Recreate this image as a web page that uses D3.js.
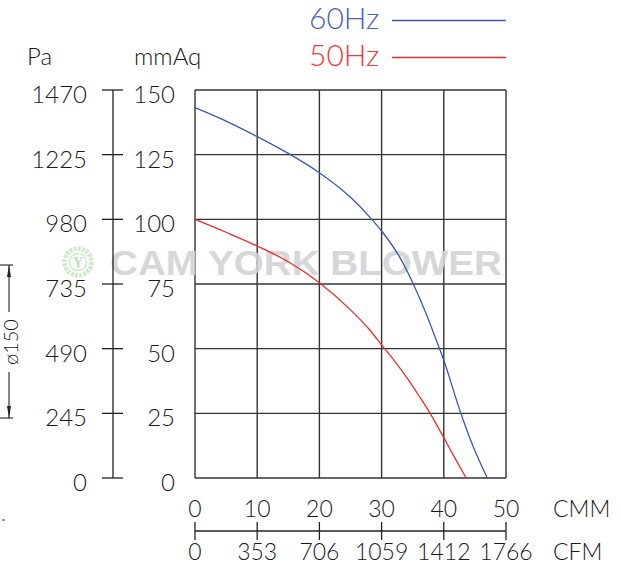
<!DOCTYPE html>
<html>
<head>
<meta charset="utf-8">
<script src="https://cdn.jsdelivr.net/npm/d3@7"></script>
<style>
  body { margin: 0; background: #fff; }
  text { font-family: Lato, "DejaVu Sans", sans-serif; font-weight: 300; fill: #1a1a1a; }
</style>
</head>
<body>
<div id="plot"></div>
<script>
// axis ticks / labels
const cmmTicks = [0, 10, 20, 30, 40, 50];
const cfmLabels = ["0", "353", "706", "1059", "1412", "1766"];
const mmAqTicks = [0, 25, 50, 75, 100, 125, 150];
const paLabels = ["0", "245", "490", "735", "980", "1225", "1470"];

// 60Hz curve (CMM, mmAq)
const flow60 = [0, 5, 10, 15, 20, 25, 28.4, 30, 33, 35, 37, 39, 40, 42.6, 44.7, 47];
const press60 = [143.2, 138, 132, 125.5, 118, 108.5, 100, 95.5, 85, 75.5, 64.5, 52, 45.5, 26, 12.3, 0];

// 50Hz curve (CMM, mmAq)
const flow50 = [0, 5, 10, 15, 20, 25, 28, 30, 32, 34, 36, 37.8, 40, 42, 43.6];
const press50 = [100, 95, 89.7, 83.6, 75.5, 65, 57.5, 51.5, 45.5, 39, 31.8, 25, 15.6, 6.8, 0];

const width = 621;
const height = 564;
const margin = { top: 90, right: 115, bottom: 86, left: 195 };

const svg = d3.select("#plot")
    .append("svg")
    .attr("width", width)
    .attr("height", height);

const x = d3.scaleLinear().domain([0, 50]).range([margin.left, width - margin.right]);
const y = d3.scaleLinear().domain([0, 150]).range([height - margin.bottom, margin.top]);
const yPa = d3.scaleLinear().domain([0, 1470]).range([height - margin.bottom, margin.top]);

// grid
svg.append("g")
    .selectAll("line")
    .data(cmmTicks)
    .join("line")
    .attr("x1", (d) => x(d)).attr("x2", (d) => x(d))
    .attr("y1", y(0)).attr("y2", y(150))
    .attr("stroke", "#333").attr("stroke-width", 1.4);

svg.append("g")
    .selectAll("line")
    .data(mmAqTicks)
    .join("line")
    .attr("x1", x(0)).attr("x2", x(50))
    .attr("y1", (d) => y(d)).attr("y2", (d) => y(d))
    .attr("stroke", "#333").attr("stroke-width", 1.4);

// watermark
const wm = svg.append("g").attr("opacity", 0.9);
wm.append("circle")
    .attr("cx", 78).attr("cy", 262).attr("r", 13.5)
    .attr("fill", "none").attr("stroke", "#c9e8c4").attr("stroke-width", 4.5)
    .attr("stroke-dasharray", "3 1.2");
wm.append("circle")
    .attr("cx", 78).attr("cy", 262).attr("r", 8.5)
    .attr("fill", "#fff").attr("stroke", "#c9e8c4").attr("stroke-width", 1.5);
wm.append("text")
    .attr("x", 78).attr("y", 267)
    .attr("text-anchor", "middle")
    .style("font-family", "'Liberation Serif', serif")
    .style("font-size", "14px")
    .style("font-weight", "bold")
    .style("fill", "#b5dcb0")
    .text("Y");
wm.append("text")
    .attr("x", 110).attr("y", 275)
    .attr("textLength", 392)
    .attr("lengthAdjust", "spacingAndGlyphs")
    .style("font-family", "'Liberation Sans', Arial, sans-serif")
    .style("font-weight", "bold")
    .style("font-size", "35px")
    .style("fill", "#d2d3d5")
    .text("CAM YORK BLOWER");

// curves
const line = d3.line()
    .x((d) => x(d[0]))
    .y((d) => y(d[1]))
    .curve(d3.curveMonotoneX);

svg.append("path")
    .datum(d3.zip(flow60, press60))
    .attr("d", line)
    .attr("fill", "none")
    .attr("stroke", "#3c58b4")
    .attr("stroke-width", 1.3);

svg.append("path")
    .datum(d3.zip(flow50, press50))
    .attr("d", line)
    .attr("fill", "none")
    .attr("stroke", "#f02a2a")
    .attr("stroke-width", 1.3);

// left axis (Pa | mmAq)
const axisX = 113;
svg.append("line")
    .attr("x1", axisX).attr("x2", axisX)
    .attr("y1", y(0)).attr("y2", y(150))
    .attr("stroke", "#222").attr("stroke-width", 1.3);

svg.append("g")
    .selectAll("line")
    .data(mmAqTicks)
    .join("line")
    .attr("x1", axisX - 11).attr("x2", axisX + 10)
    .attr("y1", (d) => y(d)).attr("y2", (d) => y(d))
    .attr("stroke", "#222").attr("stroke-width", 1.3);

svg.append("g")
    .selectAll("text")
    .data(mmAqTicks)
    .join("text")
    .attr("x", 175)
    .attr("y", (d) => y(d) + 13)
    .attr("text-anchor", "end")
    .style("font-size", "24px")
    .text((d) => d);

svg.append("g")
    .selectAll("text")
    .data(paLabels)
    .join("text")
    .attr("x", 87)
    .attr("y", (d) => yPa(+d) + 13)
    .attr("text-anchor", "end")
    .style("font-size", "24px")
    .text((d) => d);

svg.append("text")
    .attr("x", 27).attr("y", 65)
    .style("font-size", "24px")
    .text("Pa");

svg.append("text")
    .attr("x", 134).attr("y", 65)
    .style("font-size", "24px")
    .text("mmAq");

// bottom axis (CMM | CFM)
const axisY = 531;
svg.append("line")
    .attr("x1", x(0)).attr("x2", x(50))
    .attr("y1", axisY).attr("y2", axisY)
    .attr("stroke", "#222").attr("stroke-width", 1.3);

svg.append("g")
    .selectAll("line")
    .data(cmmTicks)
    .join("line")
    .attr("x1", (d) => x(d)).attr("x2", (d) => x(d))
    .attr("y1", axisY - 9).attr("y2", axisY + 9)
    .attr("stroke", "#222").attr("stroke-width", 1.3);

svg.append("g")
    .selectAll("text")
    .data(cmmTicks)
    .join("text")
    .attr("x", (d) => x(d))
    .attr("y", 517)
    .attr("text-anchor", "middle")
    .style("font-size", "23px")
    .text((d) => d);

svg.append("g")
    .selectAll("text")
    .data(cfmLabels)
    .join("text")
    .attr("x", (d, i) => x(cmmTicks[i]))
    .attr("y", 560)
    .attr("text-anchor", "middle")
    .style("font-size", "23px")
    .text((d) => d);

svg.append("text")
    .attr("x", 553).attr("y", 517)
    .style("font-size", "23px")
    .text("CMM");

svg.append("text")
    .attr("x", 553).attr("y", 560)
    .style("font-size", "23px")
    .text("CFM");

// legend
const legend = [
    { label: "60Hz", color: "#3c58b4", text: "#4a62b8", y: 29, ly: 20.5 },
    { label: "50Hz", color: "#f02a2a", text: "#f03a3a", y: 66, ly: 57.5 },
];
legend.forEach((d) => {
    svg.append("text")
        .attr("x", 309).attr("y", d.y)
        .style("font-size", "30px")
        .style("fill", d.text)
        .text(d.label);
    svg.append("line")
        .attr("x1", 392).attr("x2", 506)
        .attr("y1", d.ly).attr("y2", d.ly)
        .attr("stroke", d.color).attr("stroke-width", 1.3);
});

// diameter dimension
const dim = svg.append("g").attr("stroke", "#222").attr("stroke-width", 1.1);
dim.append("line").attr("x1", 0).attr("x2", 13).attr("y1", 265).attr("y2", 265);
dim.append("line").attr("x1", 0).attr("x2", 13).attr("y1", 418).attr("y2", 418);
dim.append("line").attr("x1", 9).attr("x2", 9).attr("y1", 265).attr("y2", 312);
dim.append("line").attr("x1", 9).attr("x2", 9).attr("y1", 372).attr("y2", 418);
svg.append("path").attr("d", "M9,265 L7,277 L11,277 Z").attr("fill", "#222");
svg.append("path").attr("d", "M9,418 L7,406 L11,406 Z").attr("fill", "#222");
svg.append("text")
    .attr("transform", "translate(18,342) rotate(-90)")
    .attr("text-anchor", "middle")
    .style("font-size", "20px")
    .text("ø150");
svg.append("line").attr("x1", 2).attr("x2", 5).attr("y1", 520).attr("y2", 520)
    .attr("stroke", "#444").attr("stroke-width", 1);
</script>
</body>
</html>
